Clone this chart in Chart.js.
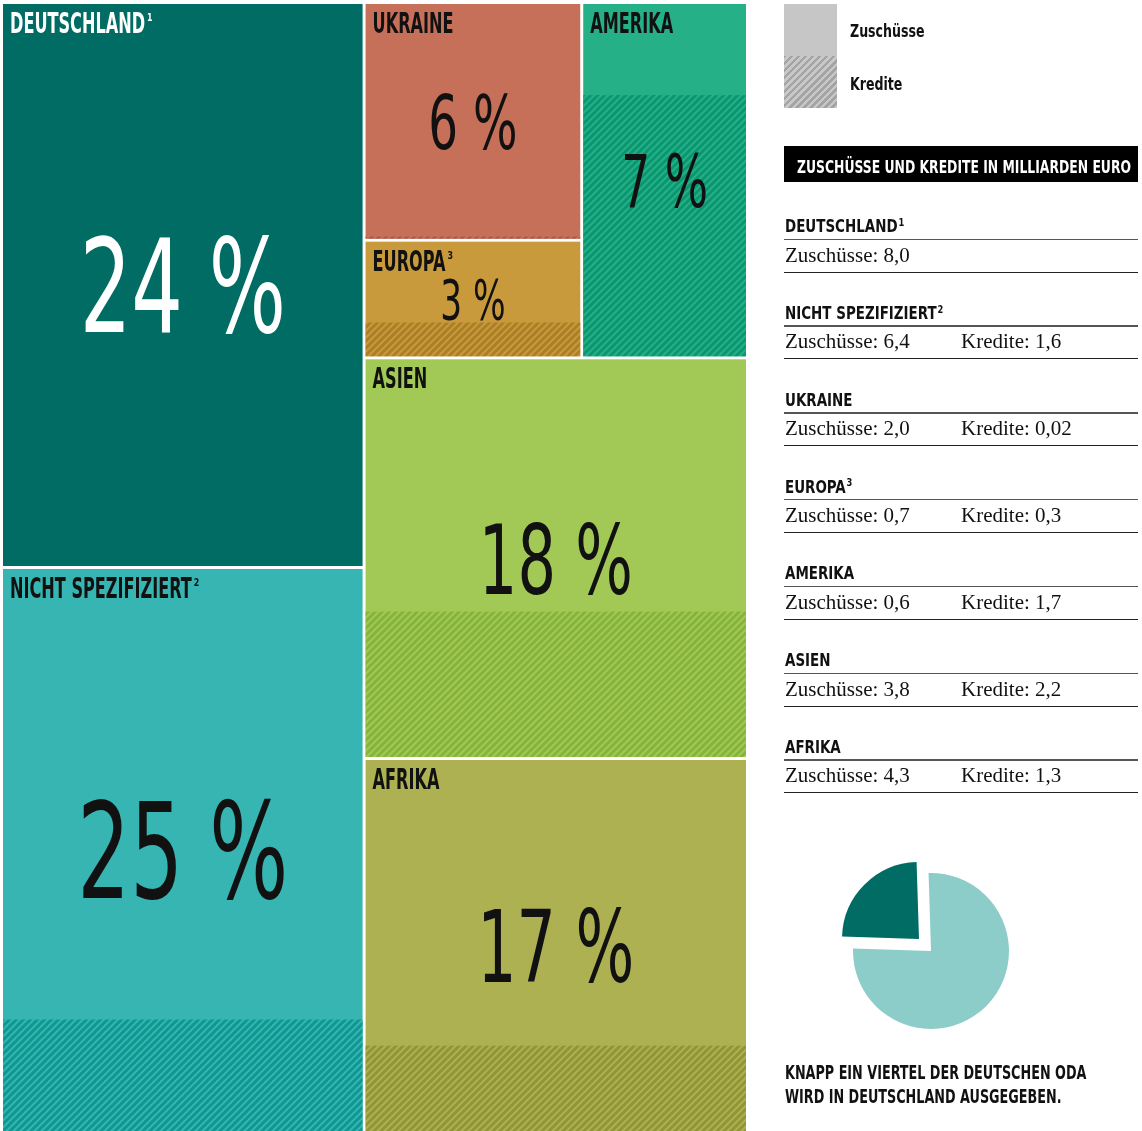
<!DOCTYPE html>
<html lang="de">
<head>
<meta charset="utf-8">
<title>Deutsche ODA nach Regionen</title>
<script src="https://cdn.jsdelivr.net/npm/chart.js@4.4.1/dist/chart.umd.min.js"></script>
<style>
  html, body { margin: 0; padding: 0; background: #fff; overflow: hidden; }
  body { width: 1142px; height: 1131px; position: relative; color: #111;
         font-family: 'Liberation Sans Narrow', 'DejaVu Sans Condensed', sans-serif; }
  #mapBox { position: absolute; left: 0; top: 0; width: 750px; height: 1134px; }
  .pieBox { position: absolute; width: 220px; height: 220px; }
  #panel { position: absolute; left: 0; top: 0; width: 1142px; height: 1131px; pointer-events: none; }
  .txt { position: absolute; white-space: nowrap; transform-origin: 0 0; }
  .cond { font-weight: bold; }
  .serif { font-family: 'Liberation Serif', 'DejaVu Serif', serif; }
  .txt sup { font-size: 0.62em; vertical-align: 0; position: relative; top: -0.55em; margin-left: 1px; }
  .rule { position: absolute; left: 784px; width: 354px; }
  .swatch { position: absolute; left: 784px; width: 53px; height: 52px; }
  #bar { position: absolute; left: 784px; top: 146px; width: 354px; height: 36px; background: #000; }
</style>
</head>
<body>
<div id="mapBox"><canvas id="map"></canvas></div>
<div class="pieBox" style="left:821px;top:841px"><canvas id="pieRest"></canvas></div>
<div class="pieBox" style="left:809px;top:829px"><canvas id="pieDE"></canvas></div>
<div id="panel">
  <div class="swatch" style="top:4px;background:#c6c6c6"></div>
  <div class="swatch" style="top:56px;background:repeating-linear-gradient(-45deg,#c8c8c8 0 2.5px,#a4a4a4 2.5px 5px)"></div>
  <div id="bar"></div>
</div>
<script>
// Daten
const regionen = ['DEUTSCHLAND', 'NICHT SPEZIFIZIERT', 'UKRAINE', 'EUROPA', 'AMERIKA', 'ASIEN', 'AFRIKA'];
const fussnoten = ['1', '2', '', '3', '', '', ''];
const zuschuesse = [8.0, 6.4, 2.0, 0.7, 0.6, 3.8, 4.3];   // Mrd. Euro
const kredite = [null, 1.6, 0.02, 0.3, 1.7, 2.2, 1.3];     // Mrd. Euro
const anteile = [24, 25, 6, 3, 7, 18, 17];                 // Prozent, wie beschriftet
const legendeTexte = ['Zuschüsse', 'Kredite'];
const tortenLabels = ['Deutschland', 'Übrige ODA'];
const tortenWerte = [24, 76];
const titel = 'ZUSCHÜSSE UND KREDITE IN MILLIARDEN EURO';
const fazit = ['KNAPP EIN VIERTEL DER DEUTSCHEN ODA', 'WIRD IN DEUTSCHLAND AUSGEGEBEN.'];

// Stil
const farben   = ['#006c64', '#36b5b3', '#c6705a', '#c99a3b', '#25b088', '#a2c955', '#aeb152'];
const streifen = ['#005850', '#0e9890', '#a65744', '#ab7f26', '#0a9770', '#86b43a', '#929535'];
const textFarbe = ['#fff', '#111', '#111', '#111', '#111', '#111', '#111'];
const zahlGroesse = [130, 133, 75, 55, 73, 97, 99];
const GAP = 1.5;
const CAP = 0.729;   // Versalhöhe DejaVu

// Aufteilung der Kacheln: 'row' = nebeneinander, 'col' = untereinander
const baum = { dir: 'row', kids: [
  { dir: 'col', kids: [0, 1] },
  { dir: 'col', kids: [ { dir: 'row', kids: [ { dir: 'col', kids: [2, 3] }, 4 ] }, 5, 6 ] }
]};

function wert(node) {
  if (typeof node === 'number') return zuschuesse[node] + (kredite[node] || 0);
  return node.kids.reduce((s, k) => s + wert(k), 0);
}

function layout(node, x0, y0, x1, y1, out) {
  if (typeof node === 'number') { out[node] = { x0, y0, x1, y1 }; return; }
  const total = wert(node);
  let pos = node.dir === 'row' ? x0 : y0;
  node.kids.forEach(k => {
    const len = (node.dir === 'row' ? (x1 - x0) : (y1 - y0)) * wert(k) / total;
    if (node.dir === 'row') layout(k, pos, y0, pos + len, y1, out);
    else layout(k, x0, pos, x1, pos + len, out);
    pos += len;
  });
}

function schraffur(ctx, basis, linie) {
  const s = 7;
  const c = document.createElement('canvas');
  c.width = s; c.height = s;
  const g = c.getContext('2d');
  g.fillStyle = basis; g.fillRect(0, 0, s, s);
  g.strokeStyle = linie; g.lineWidth = 3;
  g.beginPath();
  g.moveTo(-1, s + 1); g.lineTo(s + 1, -1);
  g.moveTo(-1, 1); g.lineTo(1, -1);
  g.moveTo(s - 1, s + 1); g.lineTo(s + 1, s - 1);
  g.stroke();
  return ctx.createPattern(c, 'repeat');
}

function schmalText(ctx, text, x, y, groesse, gewicht, sx, align) {
  ctx.save();
  ctx.font = gewicht + ' ' + groesse + 'px "Liberation Sans Narrow", "DejaVu Sans Condensed", sans-serif';
  ctx.translate(x, y);
  ctx.scale(sx, 1);
  ctx.textAlign = align || 'left';
  ctx.textBaseline = 'alphabetic';
  ctx.fillText(text, 0, 0);
  const w = ctx.measureText(text).width * sx;
  ctx.restore();
  return w;
}

const treemapPlugin = {
  id: 'treemap',
  beforeDatasetsDraw(chart) {
    const { ctx, scales: { x, y } } = chart;
    const rects = [];
    layout(baum, 0, 0, 1, 1, rects);
    rects.forEach((r, i) => {
      const L = x.getPixelForValue(r.x0) + GAP, R = x.getPixelForValue(r.x1) - GAP;
      const T = y.getPixelForValue(r.y0) + GAP, B = y.getPixelForValue(r.y1) - GAP;
      const k = kredite[i] || 0, gesamt = zuschuesse[i] + k;
      const split = Math.min(y.getPixelForValue(r.y1 - (r.y1 - r.y0) * k / gesamt), B - 2);
      ctx.fillStyle = farben[i];
      ctx.fillRect(L, T, R - L, B - T);
      if (k > 0) {
        ctx.fillStyle = schraffur(ctx, farben[i], streifen[i]);
        ctx.fillRect(L, split, R - L, B - split);
      }
      // Beschriftung
      ctx.fillStyle = textFarbe[i];
      const w = schmalText(ctx, regionen[i], L + 7, T + 29, 28, 'bold', 0.64);
      if (fussnoten[i]) schmalText(ctx, fussnoten[i], L + 9 + w, T + 17, 11, 'bold', 0.8);
      const gz = zahlGroesse[i];
      schmalText(ctx, anteile[i] + ' %', (L + R) / 2, (T + B) / 2 + gz * CAP / 2, gz, 'normal', 0.694, 'center');
    });
  }
};

new Chart(document.getElementById('map'), {
  type: 'scatter',
  data: { datasets: [] },
  options: {
    responsive: true, maintainAspectRatio: false, animation: false, devicePixelRatio: 1,
    layout: { padding: { left: 1.5, top: 2.5, right: 2.5, bottom: 1.5 } },
    scales: {
      x: { type: 'linear', min: 0, max: 1, display: false },
      y: { type: 'linear', min: 0, max: 1, reverse: true, display: false }
    },
    plugins: { legend: { display: false }, tooltip: { enabled: false } }
  },
  plugins: [treemapPlugin]
});

// Torte: Anteil Deutschland, Segment nach links oben herausgerückt (zweite Ebene)
const spanne = tortenWerte[0] / (tortenWerte[0] + tortenWerte[1]) * 360;
function torte(id, farbenTorte, radius) {
  new Chart(document.getElementById(id), {
    type: 'pie',
    data: { labels: tortenLabels, datasets: [{ data: tortenWerte, backgroundColor: farbenTorte, borderWidth: 0 }] },
    options: {
      responsive: true, maintainAspectRatio: false, animation: false, devicePixelRatio: 1,
      radius: radius, rotation: 315 - spanne / 2,
      plugins: { legend: { display: false }, tooltip: { enabled: false } }
    }
  });
}
torte('pieRest', ['rgba(0,0,0,0)', '#8ccdca'], 78);
torte('pieDE', ['#006c64', 'rgba(0,0,0,0)'], 77);

// rechte Spalte: Legende, Tabelle, Fazit
const panel = document.getElementById('panel');
function setze(html, x, basis, groesse, cls, sx, farbe) {
  const d = document.createElement('div');
  d.className = 'txt ' + cls;
  d.innerHTML = html;
  d.style.left = x + 'px';
  d.style.top = (basis - 0.85 * groesse) + 'px';
  d.style.fontSize = groesse + 'px';
  d.style.lineHeight = groesse + 'px';
  if (sx) d.style.transform = 'scaleX(' + sx + ')';
  if (farbe) d.style.color = farbe;
  panel.appendChild(d);
}
function linie(y, dicke, farbe) {
  const d = document.createElement('div');
  d.className = 'rule';
  d.style.top = y + 'px'; d.style.height = dicke + 'px'; d.style.background = farbe;
  panel.appendChild(d);
}
function zahl(v) {
  const zwei = Math.abs(v * 10 - Math.round(v * 10)) > 1e-9;
  return v.toFixed(zwei ? 2 : 1).replace('.', ',');
}

setze(legendeTexte[0], 850, 38, 17.5, 'cond', 0.8);
setze(legendeTexte[1], 850, 91, 17.5, 'cond', 0.8);
setze(titel, 797, 173, 17, 'cond', 0.81, '#fff');

regionen.forEach((name, i) => {
  const yl = 238.5 + i * 86.8;
  const sup = fussnoten[i] ? '<sup>' + fussnoten[i] + '</sup>' : '';
  setze(name + sup, 785, yl - 6, 18, 'cond', 0.83);
  linie(yl, 1.5, '#555');
  setze('Zuschüsse: ' + zahl(zuschuesse[i]), 785, yl + 24, 21, 'serif', 1);
  if (kredite[i] !== null) setze('Kredite: ' + zahl(kredite[i]), 961, yl + 24, 21, 'serif', 1);
  linie(yl + 33, 1, '#222');
});

setze(fazit[0], 785, 1079, 20, 'cond', 0.71);
setze(fazit[1], 785, 1103, 20, 'cond', 0.71);
</script>
</body>
</html>
